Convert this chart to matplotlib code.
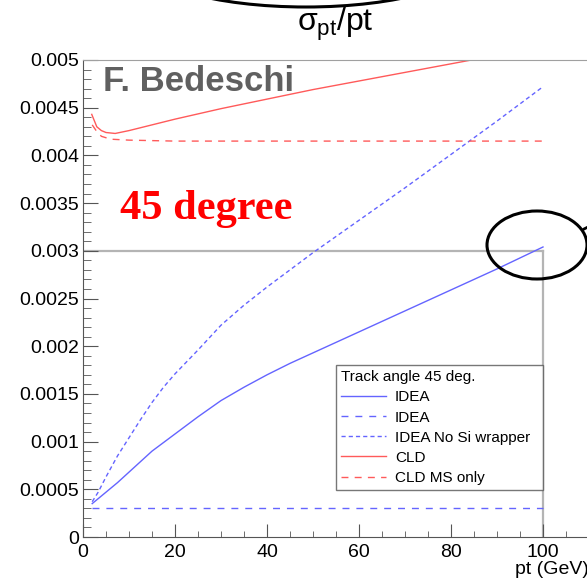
import matplotlib
matplotlib.use('Agg')
import matplotlib.pyplot as plt
from matplotlib.patches import Ellipse
from matplotlib.ticker import MultipleLocator

plt.rcParams['font.family'] = ['Liberation Sans', 'DejaVu Sans']
plt.rcParams['mathtext.fontset'] = 'custom'
plt.rcParams['mathtext.rm'] = 'Liberation Sans'
plt.rcParams['mathtext.it'] = 'Liberation Sans'

# sigma_pt/pt vs pt
idea_pt = [2, 5, 7.5, 10, 12.5, 15, 17.5, 20, 25, 30, 35, 40, 45, 50, 55, 60,
           70, 80, 90, 100]
idea_res = [0.000350, 0.00047, 0.00057, 0.00068, 0.00079, 0.00090, 0.00099,
            0.00108, 0.00126, 0.00143, 0.00157, 0.00170, 0.00182, 0.00193,
            0.00204, 0.00215, 0.00237, 0.00259, 0.00281, 0.00304]

idea_ms_pt = [2, 100]
idea_ms_res = [0.00030, 0.00030]

nosi_pt = [2, 3.3, 5, 7.5, 10, 12.5, 15, 17.5, 20, 25, 30, 35, 40, 45, 50,
           60, 70, 80, 90, 100]
nosi_res = [0.00037, 0.00047, 0.00063, 0.00085, 0.00104, 0.00123, 0.00141,
            0.00157, 0.00171, 0.00196, 0.00222, 0.00243, 0.00262, 0.00280,
            0.00298, 0.00332, 0.00366, 0.00401, 0.00436, 0.00472]

cld_pt = [1.9, 3, 4, 5, 7, 10, 15, 20, 30, 40, 50, 60, 70, 80, 90, 100]
cld_res = [0.00443, 0.00430, 0.00426, 0.00424, 0.00423, 0.00426, 0.00432,
           0.00438, 0.00449, 0.00459, 0.00469, 0.00478, 0.00487, 0.00496,
           0.00505, 0.00514]

cld_ms_pt = [2, 3, 4, 6, 10, 20, 100]
cld_ms_res = [0.00432, 0.00425, 0.00420, 0.00417, 0.00416, 0.00415, 0.00415]

ref_pt = 100
ref_res = 0.003

blue = '#6464ff'
red = '#ff5a5a'

fig = plt.figure(figsize=(5.87, 5.81), dpi=100)
ax = fig.add_axes([83 / 587, 44 / 581, 506 / 587, 477 / 581])

ax.plot([0, ref_pt], [ref_res, ref_res], color='#b4b4b4', lw=1.6, zorder=1)
ax.plot([ref_pt, ref_pt], [0, ref_res], color='#b4b4b4', lw=1.6, zorder=1)

ax.plot(idea_pt, idea_res, color=blue, lw=1.0, label='IDEA')
ax.plot(idea_ms_pt, idea_ms_res, color=blue, lw=1.0, dashes=(5, 5), label='IDEA')
ax.plot(nosi_pt, nosi_res, color=blue, lw=1.0, dashes=(3, 2.2),
        label='IDEA No Si wrapper')
ax.plot(cld_pt, cld_res, color=red, lw=1.0, label='CLD')
ax.plot(cld_ms_pt, cld_ms_res, color=red, lw=1.0, dashes=(5, 4.5),
        label='CLD MS only')

ax.set_xlim(0, 110)
ax.set_ylim(0, 0.005)
ax.xaxis.set_major_locator(MultipleLocator(20))
ax.xaxis.set_minor_locator(MultipleLocator(5))
ax.yaxis.set_major_locator(MultipleLocator(0.0005))
ax.yaxis.set_minor_locator(MultipleLocator(0.0001))
ax.yaxis.set_major_formatter(plt.FuncFormatter(lambda v, p: f'{v:g}'))
ax.tick_params(which='both', direction='in', color='#555555', labelsize=14,
               top=False, right=False)
ax.tick_params(axis='y', which='major', length=11, pad=3)
ax.tick_params(axis='y', which='minor', length=5.5)
ax.tick_params(axis='x', which='major', length=9.5, pad=5)
ax.tick_params(axis='x', which='minor', length=4.5)
for s in ['left', 'bottom']:
    ax.spines[s].set_color('#555555')
ax.spines['top'].set_color('#a0a0a0')
ax.spines['right'].set_visible(False)

ax.set_xlabel('pt (GeV)', fontsize=14, loc='right', labelpad=0)

ax.text(0.04, 0.99, 'F. Bedeschi', transform=ax.transAxes, fontsize=25,
        fontweight='bold', color='#606060', va='top', ha='left')
ax.text(0.073, 0.688, '45 degree', transform=ax.transAxes, fontsize=30.5,
        fontweight='bold', color='#ff0000', family='Liberation Serif',
        va='center', ha='left')

leg = ax.legend(loc='upper left', bbox_to_anchor=(0.5, 0.109, 0.409, 0.2516),
                mode='expand', title='Track angle 45 deg.', alignment='left',
                fontsize=11, title_fontsize=11, frameon=True, fancybox=False,
                edgecolor='#555555', borderaxespad=0, borderpad=0.35,
                handlelength=2.9, handletextpad=0.6, labelspacing=0.4)
leg.get_frame().set_linewidth(1.0)

# slide decorations in pixel coordinates
ov = fig.add_axes([0, 0, 1, 1], facecolor='none')
ov.set_xlim(0, 587)
ov.set_ylim(581, 0)
ov.axis('off')
ov.add_patch(Ellipse((306, -42), 336, 98, fill=False, ec='black', lw=2.2))
ov.add_patch(Ellipse((537, 245), 100, 68, fill=False, ec='black', lw=2.2))
ov.plot([584, 590], [229, 226], color='black', lw=2.0)
ov.text(335, 24, r'$\sigma_{\rm pt}$/pt', fontsize=23, ha='center', va='center')

fig.savefig('out.png', dpi=100)
